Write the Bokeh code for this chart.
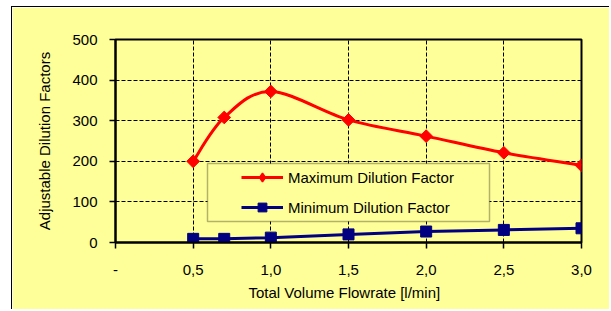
import math
from bokeh.plotting import figure
from bokeh.models import (Range1d, FixedTicker, Legend, LegendItem, BoxAnnotation)
from bokeh.embed import file_html
from bokeh.resources import INLINE

# ---- data ----
flowrate = [0.5, 0.7, 1.0, 1.5, 2.0, 2.5, 3.0]
max_dilution = [200, 308, 372, 302, 262, 221, 190]
min_dilution = [9, 9, 12, 20, 27, 31, 35]

x_ticks = [0, 0.5, 1.0, 1.5, 2.0, 2.5, 3.0]
x_tick_labels = ["-", "0,5", "1,0", "1,5", "2,0", "2,5", "3,0"]
y_ticks = [0, 100, 200, 300, 400, 500]

series_names = ["Maximum Dilution Factor", "Minimum Dilution Factor"]

BG = "#FFFF99"
FONT = "Liberation Sans"
FS = "15px"

W, H = 598, 303
p = figure(width=W, height=H, output_backend="svg", toolbar_location=None,
           x_range=Range1d(0, 3.0), y_range=Range1d(0, 500),
           min_border_left=103, min_border_top=32, min_border_right=29,
           min_border_bottom=68)
p.styles = {"margin-left": "11px", "margin-top": "6px",
            "border-left": "1px solid black", "border-top": "1px solid black"}

p.background_fill_color = BG
p.border_fill_color = BG
p.outline_line_color = "black"
p.outline_line_width = 2

# grids
for g, t in ((p.xgrid, x_ticks), (p.ygrid, y_ticks)):
    g.ticker = FixedTicker(ticks=t)
    g.grid_line_color = "black"
    g.grid_line_width = 1
    g.grid_line_dash = "4 2"

# axes
xa = p.xaxis[0]
xa.ticker = FixedTicker(ticks=x_ticks)
xa.major_label_overrides = {t: lab for t, lab in zip(x_ticks, x_tick_labels)}
xa.axis_label = "Total Volume  Flowrate  [l/min]"
xa.major_label_standoff = 16
xa.axis_label_standoff = 6

ya = p.yaxis[0]
ya.ticker = FixedTicker(ticks=y_ticks)
ya.axis_label = "Adjustable Dilution Factors"
ya.major_label_standoff = 12
ya.axis_label_standoff = 16

for ax in (xa, ya):
    ax.axis_line_color = "black"
    ax.axis_line_width = 2
    ax.major_tick_line_color = "black"
    ax.major_tick_line_width = 1.5
    ax.major_tick_out = 6
    ax.major_tick_in = 0
    ax.minor_tick_line_color = None
    ax.major_label_text_font = FONT
    ax.major_label_text_font_size = FS
    ax.major_label_text_color = "black"
    ax.axis_label_text_font = FONT
    ax.axis_label_text_font_size = FS
    ax.axis_label_text_font_style = "normal"
    ax.axis_label_text_color = "black"

# smoothed red line (Bezier segments through the data points)
def bezier_segments(xs, ys):
    n = len(xs)
    seg = {k: [] for k in ("x0", "y0", "x1", "y1", "cx0", "cy0", "cx1", "cy1")}
    for i in range(n - 1):
        im1 = max(i - 1, 0)
        ip2 = min(i + 2, n - 1)
        seg["x0"].append(xs[i]); seg["y0"].append(ys[i])
        seg["x1"].append(xs[i + 1]); seg["y1"].append(ys[i + 1])
        seg["cx0"].append(xs[i] + (xs[i + 1] - xs[im1]) / 6)
        seg["cy0"].append(ys[i] + (ys[i + 1] - ys[im1]) / 6)
        seg["cx1"].append(xs[i + 1] - (xs[ip2] - xs[i]) / 6)
        seg["cy1"].append(ys[i + 1] - (ys[ip2] - ys[i]) / 6)
    return seg

bz = bezier_segments(flowrate, max_dilution)
red_line = p.bezier(line_color="#FF0000", line_width=3, **bz)
red_pts = p.scatter(flowrate, max_dilution, marker="square", angle=math.pi / 4,
                    size=9, fill_color="#FF0000", line_color="#FF0000")
# diamond key for the legend (size 0 in the plot; legend glyphs use their own size)
red_key = p.scatter(flowrate, max_dilution, marker="diamond", size=0,
                    fill_color="#FF0000", line_color="#FF0000", line_width=1.5)

blue_line = p.line(flowrate, min_dilution, line_color="#000080", line_width=3)
blue_pts = p.scatter(flowrate, min_dilution, marker="square", size=11,
                     fill_color="#000080", line_color="#000080")

# legend box
box = BoxAnnotation(left=92, right=374, bottom=21, top=79,
                    left_units="screen", right_units="screen",
                    bottom_units="screen", top_units="screen",
                    fill_color=BG, fill_alpha=1, line_color="black",
                    line_width=1.5, level="annotation")
p.add_layout(box)

legend = Legend(items=[
    LegendItem(label=series_names[0], renderers=[red_line, red_key]),
    LegendItem(label=series_names[1], renderers=[blue_line, blue_pts]),
], location=(126, 24))
legend.padding = 0
legend.spacing = 8
legend.glyph_width = 42
legend.glyph_height = 22
legend.label_height = 22
legend.label_standoff = 5
legend.label_text_font = FONT
legend.label_text_font_size = FS
legend.label_text_color = "black"
legend.border_line_color = None
legend.background_fill_alpha = 0
p.add_layout(legend)

open("out.html", "w").write(file_html(p, INLINE))
